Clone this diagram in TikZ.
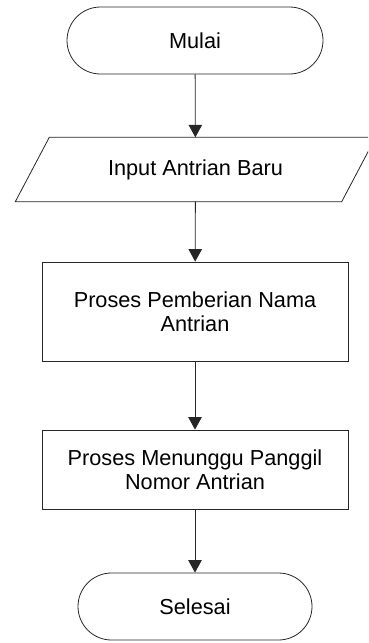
\documentclass[tikz,border=0pt]{standalone}
\usepackage{fontspec}
\setmainfont{Liberation Sans}
\usetikzlibrary{arrows.meta,calc}
\begin{document}
\begin{tikzpicture}[x=1pt,y=-1pt,
  font=\fontsize{21.7}{24}\selectfont,
  shape line/.style={draw=black!85,line width=0.8pt},
  terminal/.style={shape line,rectangle,rounded corners=33.5pt,minimum height=67pt,inner sep=0pt,align=center},
  procbox/.style={shape line,rectangle,minimum width=306pt,inner sep=0pt,align=center},
  iobox/.style={rectangle,minimum width=326pt,minimum height=64pt,inner sep=0pt,align=center},
  arr/.style={draw=black!85,line width=0.8pt,-{Triangle[length=12.5pt,width=13.5pt]}}]
\useasboundingbox (0,0) rectangle (368,643);
\clip (0,0) rectangle (368,643);

% flowchart blocks
\node[terminal,minimum width=256pt] (start) at (195,40.5) {Mulai};
\node[iobox] (inp) at (195.5,169.5) {Input Antrian Baru};
\draw[shape line] ([xshift=-17pt]inp.south west) -- ([xshift=17pt]inp.north west)
  -- ([xshift=17pt]inp.north east) -- ([xshift=-17pt]inp.south east) -- cycle;
\node[procbox,minimum height=99pt] (p1) at (195,311.5) {Proses Pemberian Nama\\Antrian};
\node[procbox,minimum height=79pt] (p2) at (195,469.5) {Proses Menunggu Panggil\\Nomor Antrian};
\node[terminal,minimum width=234pt] (stop) at (195,606.5) {Selesai};

% flow connectors
\draw[arr] (start) -- (inp);
\draw[arr] (inp) -- (p1);
\draw[arr] (p1) -- (p2);
\draw[arr] (p2) -- (stop);
\end{tikzpicture}
\end{document}
